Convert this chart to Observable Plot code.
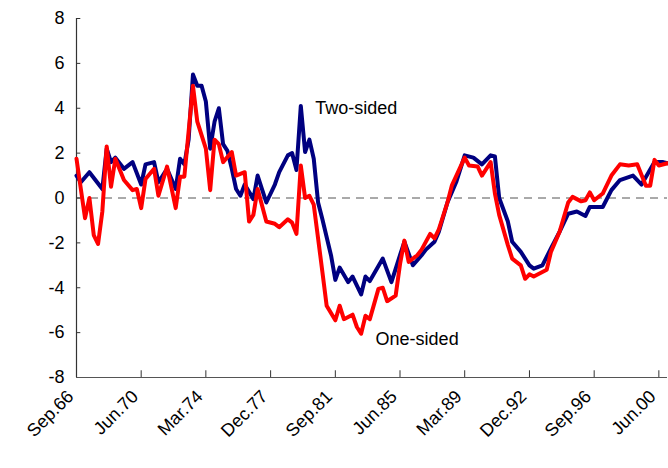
<!DOCTYPE html>
<html>
<head>
<meta charset="utf-8">
<script src="https://cdn.jsdelivr.net/npm/d3@7"></script>
<script src="https://cdn.jsdelivr.net/npm/@observablehq/plot@0.6"></script>
<style>
  body { margin: 0; background: #fff; }
  #chart svg { font-family: "Liberation Sans", Arial, sans-serif; }
  #chart svg text { font-size: 18px; }
</style>
</head>
<body>
<div id="chart"></div>
<script>
// quarter index counted from Sep.66, value
const twoQ = [0,1,3,6,7,8,9,11,13,15,16,18,19,21,23,24,25,26,27,28,29,30,31,32,33,34,35,36,37,38,39,41,42,43,44,46,47,49,50,51,52,53,54,55,56,57,59,60,61,63,64,66,67,68,71,73,75,76,78,80,81,83,84,86,88,90,92,94,96,97,98,100,101,103,105,106,108,110,112,114,116,118,119,122,124,126,129,131,134,136,137]
const twoV = [1.0,0.7,1.15,0.4,2.2,1.6,1.8,1.3,1.6,0.6,1.5,1.6,0.7,1.3,0.4,1.75,1.5,2.6,5.5,5.0,5.0,4.3,2.2,3.4,4.0,2.4,2.1,1.3,0.4,0.1,0.6,-0.05,1.0,0.4,-0.2,0.6,1.15,1.9,2.0,1.25,4.1,2.05,2.6,1.75,-0.2,-0.95,-2.55,-3.65,-3.1,-3.75,-3.5,-4.3,-3.5,-3.7,-2.7,-3.75,-2.55,-1.95,-3.0,-2.55,-2.3,-1.95,-1.5,-0.2,0.7,1.9,1.8,1.5,1.9,1.85,0,-1.05,-1.95,-2.4,-3.0,-3.15,-3.0,-2.25,-1.5,-0.7,-0.6,-0.8,-0.4,-0.4,0.35,0.8,1.0,0.6,1.6,1.6,1.55]
const oneQ = [0,2,3,4,5,6,7,8,9,11,13,14,15,16,18,19,21,23,24,25,27,28,30,31,32,33,34,36,37,39,40,41,42,44,46,47,49,50,51,52,53,54,55,56,57,58,60,61,62,64,65,66,67,68,70,71,72,74,75,76,77,79,80,82,83,84,86,87,90,91,93,94,96,97,98,100,101,103,104,105,106,109,110,112,114,115,117,118,119,120,122,124,126,128,130,132,133,134,135,137]
const oneV = [1.75,-0.9,0,-1.65,-2.05,-0.6,2.3,0.5,1.75,0.8,0.35,0.4,-0.45,0.85,1.3,0.1,1.4,-0.45,0.95,0.95,5.0,3.4,2.2,0.35,2.6,2.4,1.6,2.05,1.0,1.15,-1.05,-0.75,0.4,-1.05,-1.15,-1.3,-0.95,-1.1,-1.6,1.45,0,0.1,-0.3,-1.8,-3.3,-4.8,-5.45,-4.8,-5.4,-5.2,-5.75,-6.05,-5.25,-5.4,-4.05,-4.0,-4.6,-4.35,-2.95,-1.9,-2.85,-2.55,-2.3,-1.6,-1.8,-1.4,-0.2,0.55,1.8,1.45,1.4,1.0,1.6,0.2,-0.75,-2.1,-2.7,-3.0,-3.6,-3.4,-3.5,-3.2,-2.4,-1.5,-0.2,0.05,-0.15,-0.1,0.25,-0.1,0.2,1.0,1.5,1.45,1.5,0.55,0.55,1.7,1.45,1.55]
const tickQ = [0,15,30,45,60,75,90,105,120,135]
const tickLabels = ["Sep.66","Jun.70","Mar.74","Dec.77","Sep.81","Jun.85","Mar.89","Dec.92","Sep.96","Jun.00"]
const yTicks = [-8,-6,-4,-2,0,2,4,6,8]

const qDate = q => new Date(1966, 8 + 3 * q, 1)
const two = twoQ.map((q, i) => ({date: qDate(q), v: twoV[i]}))
const one = oneQ.map((q, i) => ({date: qDate(q), v: oneV[i]}))
const labelOf = new Map(tickQ.map((q, i) => [+qDate(q), tickLabels[i]]))
const x0 = qDate(0), x1 = qDate(137)
const xTickDates = tickQ.map(qDate)

let chart = Plot.plot({
  width: 668,
  height: 468,
  marginLeft: 76,
  marginRight: 1,
  marginTop: 18,
  marginBottom: 91,
  style: {fontFamily: "Liberation Sans, Arial, sans-serif", color: "#000"},
  x: {type: "time", domain: [x0, x1], label: null},
  y: {domain: [-8, 8], label: null},
  marks: [
    Plot.axisX(xTickDates, {tickFormat: d => labelOf.get(+d), tickRotate: -45, tickSize: 0, tickPadding: 16, dx: -6}),
    Plot.axisY(yTicks, {tickFormat: d => String(d), tickSize: 0, tickPadding: 12}),
    Plot.ruleY([0], {stroke: "#555", strokeDasharray: "8,6", strokeWidth: 1}),
    Plot.ruleX(xTickDates, {y1: -8, y2: -7.7, stroke: "#333"}),
    Plot.ruleY(yTicks, {x1: x0, x2: qDate(1.2), stroke: "#333"}),
    Plot.ruleX([x0], {stroke: "#333", strokeWidth: 1.2}),
    Plot.ruleY([-8], {stroke: "#555"}),
    Plot.line(two, {x: "date", y: "v", stroke: "#000080", strokeWidth: 4}),
    Plot.line(one, {x: "date", y: "v", stroke: "#ff0000", strokeWidth: 4}),
    Plot.text(["Two-sided"], {x: qDate(55.5), y: 4.0, text: d => d, textAnchor: "start"}),
    Plot.text(["One-sided"], {x: qDate(69.5), y: -6.3, text: d => d, textAnchor: "start"})
  ]
})
d3.select('#chart').append(() => chart)
</script>
</body>
</html>
